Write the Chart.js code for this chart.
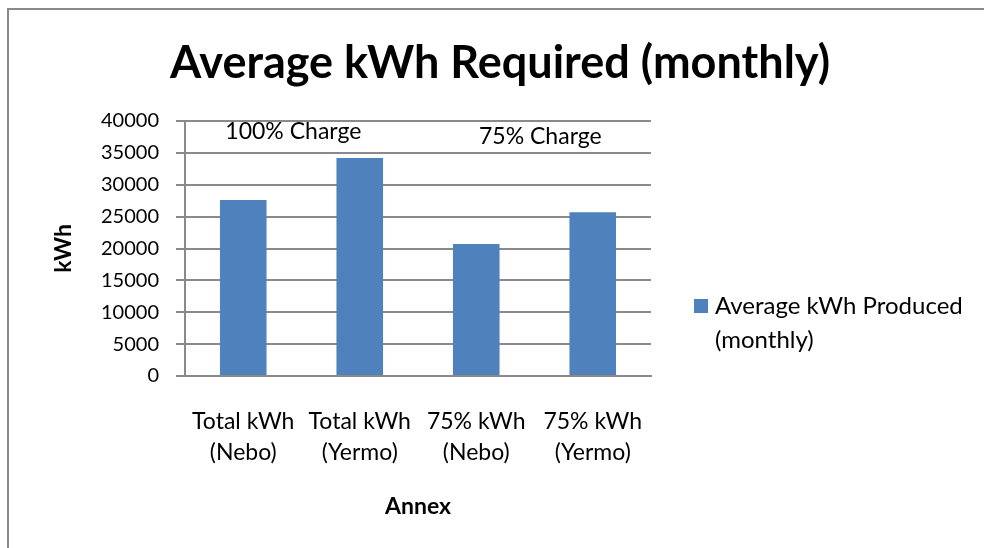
<!DOCTYPE html>
<html>
<head>
<meta charset="utf-8">
<script src="https://cdn.jsdelivr.net/npm/chart.js@4"></script>
<style>
  body { margin: 0; background: #fff; }
  #wrap { position: absolute; left: 0; top: 0; width: 984px; height: 548px; overflow: hidden; }
  #frame { position: absolute; left: 7px; top: 8px; width: 1000px; height: 600px; border: 2px solid #8a8a8a; }
  canvas { position: absolute; left: 0; top: 0; }
</style>
</head>
<body>
<div id="wrap">
  <div id="frame"></div>
  <canvas id="myChart" width="984" height="548"></canvas>
</div>
<script>
const annexLabels = [
  ["Total kWh", "(Nebo)"],
  ["Total kWh", "(Yermo)"],
  ["75% kWh", "(Nebo)"],
  ["75% kWh", "(Yermo)"],
];
const kwhProduced = [27600, 34200, 20700, 25700];
const chartTitle = "Average kWh Required (monthly)";
const seriesName = ["Average kWh Produced", "(monthly)"];
const chargeNotes = ["100% Charge", "75% Charge"];
const notePositions = [0.43, 2.55];
const noteValues = [38300, 37600];

const barColor = "#4f81bd";
const gridColor = "#8a8a8a";
const fontName = "Lato, 'Open Sans', sans-serif";

// title, notes inside the plot and the legend on the right
const extrasPlugin = {
  id: "extras",
  afterDraw: function (chart) {
    const ctx = chart.ctx;
    const x = chart.scales.x;
    const y = chart.scales.y;
    ctx.save();
    ctx.fillStyle = "#000";
    ctx.textBaseline = "middle";

    ctx.textAlign = "center";
    ctx.font = "bold 45px " + fontName;
    ctx.fillText(chartTitle, 500, 63);

    ctx.font = "23px " + fontName;
    chargeNotes.forEach((note, i) => {
      ctx.fillText(note, x.getPixelForValue(notePositions[i]), y.getPixelForValue(noteValues[i]));
    });

    const lx = chart.chartArea.right + 43;
    const ly = 306;
    ctx.fillStyle = barColor;
    ctx.fillRect(lx, ly - 7, 14, 14);
    ctx.fillStyle = "#000";
    ctx.textAlign = "left";
    ctx.font = "24px " + fontName;
    seriesName.forEach((line, i) => {
      ctx.fillText(line, lx + 21, ly + i * 34);
    });
    ctx.restore();
  },
};

new Chart(document.getElementById("myChart"), {
  type: "bar",
  data: {
    labels: annexLabels,
    datasets: [
      {
        label: seriesName.join(" "),
        data: kwhProduced,
        backgroundColor: barColor,
        barPercentage: 0.4,
        categoryPercentage: 1,
      },
    ],
  },
  options: {
    responsive: false,
    animation: false,
    layout: { padding: { left: 50, right: 333, top: 121, bottom: 0 } },
    plugins: {
      legend: { display: false },
      tooltip: { enabled: false },
      title: { display: false },
    },
    scales: {
      x: {
        grid: { display: false },
        border: { display: true, color: gridColor, width: 2 },
        ticks: {
          color: "#000",
          font: { family: fontName, size: 23, lineHeight: 1.35 },
          padding: 22,
          maxRotation: 0,
        },
        title: {
          display: true,
          text: "Annex",
          color: "#000",
          font: { family: fontName, size: 23, weight: "bold" },
          padding: { top: 0, bottom: 28 },
        },
        afterFit: function (scale) {
          scale.height = 172;
        },
      },
      y: {
        min: 0,
        max: 40000,
        grid: { color: gridColor, lineWidth: 2, tickLength: 9 },
        border: { display: true, color: gridColor, width: 2 },
        ticks: {
          stepSize: 5000,
          color: "#000",
          font: { family: fontName, size: 20 },
          padding: 17,
          callback: (v) => String(v),
        },
        title: {
          display: true,
          text: "kWh",
          color: "#000",
          font: { family: fontName, size: 23, weight: "bold" },
          padding: 0,
        },
        afterFit: function (scale) {
          scale.width = 135;
        },
      },
    },
  },
  plugins: [extrasPlugin],
});
</script>
</body>
</html>
